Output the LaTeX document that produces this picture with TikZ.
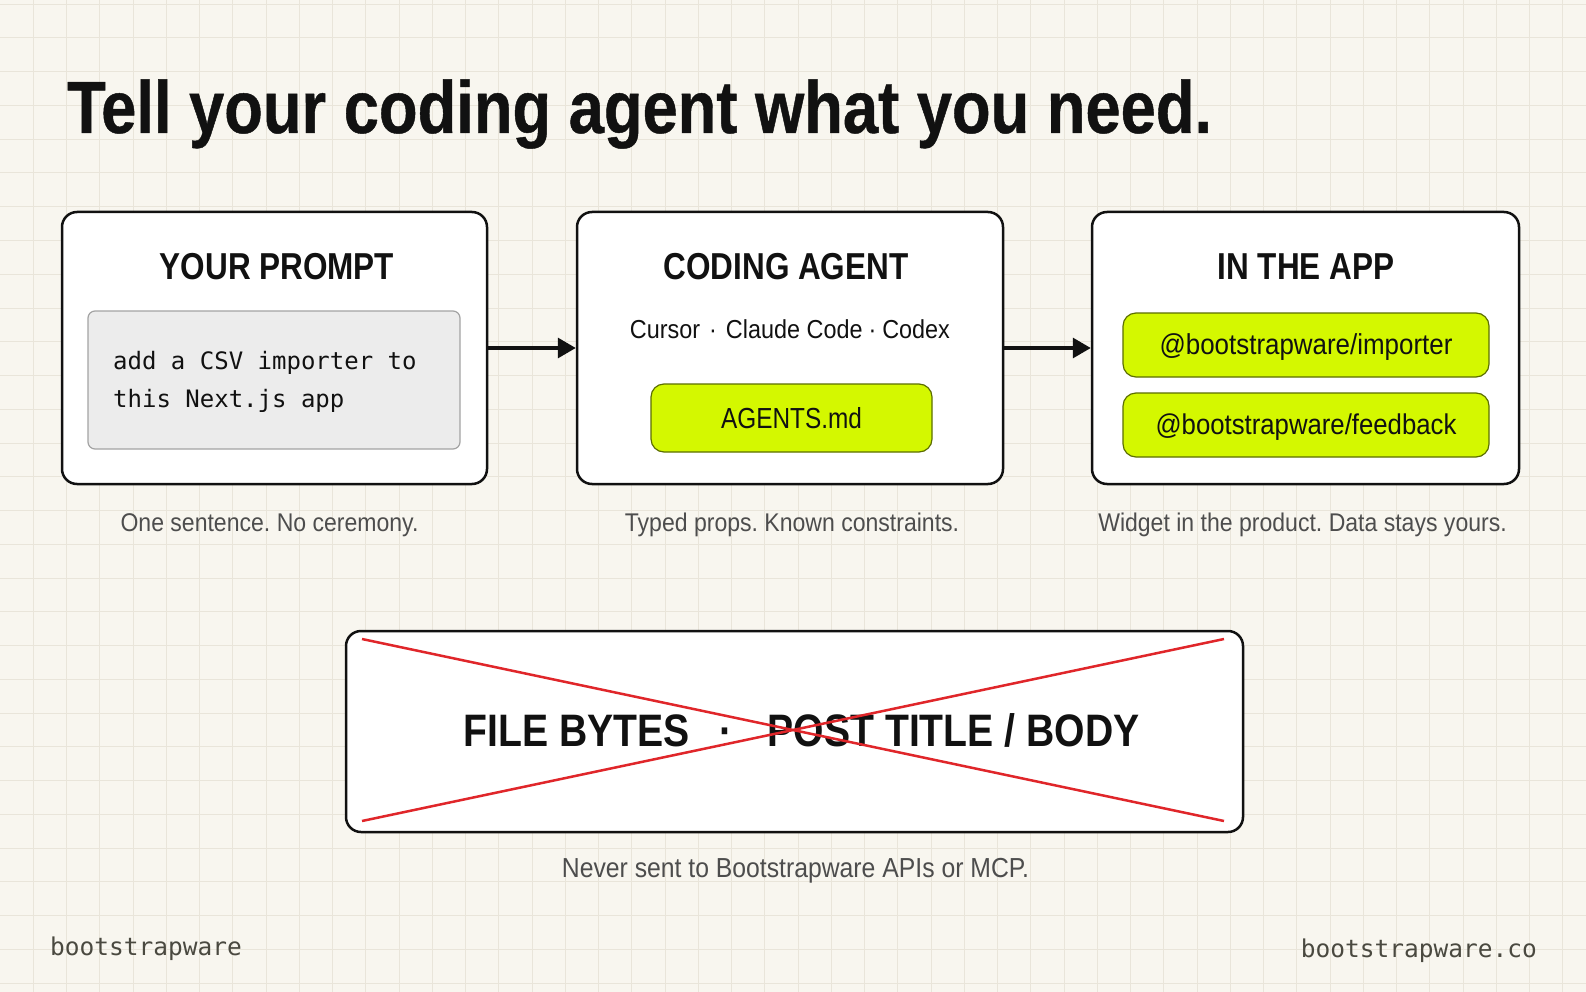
\documentclass[tikz,border=0pt]{standalone}
\usepackage{fontspec}
\setmainfont{Liberation Sans}
\newfontfamily\titlef[FakeStretch=0.855,FakeBold=0.6]{Liberation Sans}
\newfontfamily\headf[FakeStretch=0.84]{Liberation Sans}
\newfontfamily\bigf[FakeStretch=0.86]{Liberation Sans}
\newfontfamily\bodyf[FakeStretch=0.9]{Liberation Sans}
\newfontfamily\monof{DejaVu Sans Mono}
\usetikzlibrary{arrows.meta}
\frenchspacing
\definecolor{bg}{HTML}{F8F6EF}
\definecolor{gridc}{HTML}{E9E5DA}
\definecolor{lime}{HTML}{D4F800}
\definecolor{limeb}{HTML}{5C6E00}
\definecolor{graybox}{HTML}{ECECEC}
\definecolor{grayline}{HTML}{A3A3A3}
\definecolor{capc}{HTML}{4D4D4D}
\definecolor{footc}{HTML}{4A4940}
\definecolor{xred}{HTML}{E0262A}
\definecolor{ink}{HTML}{111111}
\begin{document}
\begin{tikzpicture}[x=1pt,y=-1pt,
  panel/.style={draw=ink, line width=2.5pt, fill=white, rounded corners=15pt, inner sep=0pt},
  limebox/.style={draw=limeb, line width=1.2pt, fill=lime, rounded corners=13pt, inner sep=0pt, text=ink},
  codebox/.style={draw=grayline, line width=1.2pt, fill=graybox, rounded corners=7pt, inner sep=0pt},
  headtxt/.style={anchor=base, text=ink, font=\headf\bfseries\fontsize{37.5}{40}\selectfont, inner sep=0pt},
  captxt/.style={anchor=base, text=capc, font=\bodyf\fontsize{25.6}{28}\selectfont, inner sep=0pt},
  codetxt/.style={anchor=base west, text=ink, font=\monof\fontsize{24}{28}\selectfont, inner sep=0pt},
  foottxt/.style={text=footc, font=\monof\fontsize{24.5}{28}\selectfont, inner sep=0pt},
  flowarrow/.style={draw=ink, line width=3.3pt, -{Triangle[length=18pt,width=20pt]}},
  crossline/.style={draw=xred, line width=2.5pt}
]
\fill[bg] (0,0) rectangle (1586,992);
\useasboundingbox (0,0) rectangle (1586,992);
\foreach \i in {1,...,47} \draw[gridc, line width=1pt] (\i*33.25,0) -- (\i*33.25,992);
\foreach \j in {0,...,29} \draw[gridc, line width=1pt] (0,4.25+\j*33.75) -- (1586,4.25+\j*33.75);

% title
\node[anchor=base west, inner sep=0pt, text=ink, font=\titlef\bfseries\fontsize{74}{80}\selectfont] (title) at (67,133) {Tell your coding agent what you need.};

% panels
\node[panel, minimum width=425pt, minimum height=272pt] (p1) at (274.5,348) {};
\node[panel, minimum width=426pt, minimum height=272pt] (p2) at (790,348) {};
\node[panel, minimum width=427pt, minimum height=272pt] (p3) at (1305.5,348) {};

\node[headtxt] (h1) at (277,279) {YOUR PROMPT};
\node[headtxt] (h2) at (786,279) {CODING AGENT};
\node[headtxt] (h3) at (1306,279) {IN THE APP};

% prompt
\node[codebox, minimum width=372pt, minimum height=138pt] (cb) at (274,380) {};
\node[codetxt] (c1) at (113,369) {add a CSV importer to};
\node[codetxt] (c2) at (113,407) {this Next.js app};

% agent
\node[anchor=base, inner sep=0pt, text=ink, font=\bodyf\fontsize{26}{28}\selectfont] (tools) at (790,338) {Cursor\hspace{9pt}·\hspace{9pt}Claude Code\hspace{6pt}·\hspace{6pt}Codex};
\node[limebox, minimum width=281pt, minimum height=68pt, text height=20pt, text depth=0pt, font=\headf\fontsize{29}{32}\selectfont] (agents) at (791.5,418) {AGENTS.md};

% app
\node[limebox, minimum width=366pt, minimum height=64pt, text height=19.5pt, text depth=0pt, font=\bodyf\fontsize{28.8}{30}\selectfont] (imp) at (1306,345) {@bootstrapware/importer};
\node[limebox, minimum width=366pt, minimum height=64pt, text height=19.5pt, text depth=0pt, font=\bodyf\fontsize{28.6}{30}\selectfont] (fb) at (1306,425) {@bootstrapware/feedback};

% arrows
\draw[flowarrow] (p1.east) -- (p2.west);
\draw[flowarrow] (p2.east) -- (p3.west);

% captions
\node[captxt] (cap1) at (269.5,531) {One sentence. No ceremony.};
\node[captxt] (cap2) at (792,531) {Typed props. Known constraints.};
\node[captxt] (cap3) at (1302.5,531) {Widget in the product. Data stays yours.};

% never box
\node[panel, minimum width=897pt, minimum height=201pt] (nb) at (794.5,731.5) {};
\coordinate (xa) at (362,639);
\coordinate (xb) at (1224,821);
\coordinate (xc) at (362,821);
\coordinate (xd) at (1224,639);
\node[anchor=base, inner sep=0pt, text=ink, font=\bigf\bfseries\fontsize{45.5}{48}\selectfont] (never) at (801.5,746) {FILE BYTES\hspace{30pt}·\hspace{35pt}POST TITLE / BODY};
\draw[crossline] (xa) -- (xb);
\draw[crossline] (xc) -- (xd);
\node[captxt, font=\bodyf\fontsize{27.5}{30}\selectfont] (cap4) at (795.5,877) {Never sent to Bootstrapware APIs or MCP.};

% footers
\node[foottxt, anchor=base west] (fl) at (50,955) {bootstrapware};
\node[foottxt, anchor=base east] (fr) at (1537,957) {bootstrapware.co};
\end{tikzpicture}
\end{document}
